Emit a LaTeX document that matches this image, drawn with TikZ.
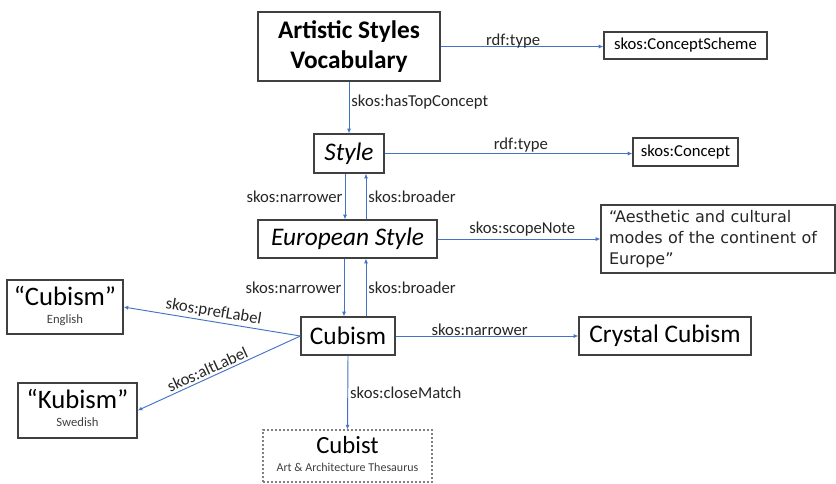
\documentclass[tikz,border=0pt]{standalone}
\usepackage{fontspec}
\setmainfont{Carlito}
\newfontfamily\notefont{DejaVu Sans}
\usetikzlibrary{arrows.meta,calc}
\definecolor{linec}{HTML}{4472C4}
\definecolor{boxc}{HTML}{404040}
\definecolor{lblc}{HTML}{262626}
\definecolor{subc}{HTML}{404040}
\begin{document}
\begin{tikzpicture}[x=0.75pt,y=-0.75pt,
  box/.style 2 args={draw=boxc, line width=0.9pt, minimum width=#1*0.75pt, minimum height=#2*0.75pt, inner sep=0pt, text=black, align=center},
  bigtext/.style={font=\fontsize{19}{23}\selectfont},
  lbl/.style={font=\fontsize{12.5}{14}\selectfont, text=lblc, inner sep=1.5pt},
  rel/.style={draw=linec, line width=0.7pt, -{Latex[length=3.5pt,width=3pt]}},
]
\useasboundingbox[fill=white] (0,0) rectangle (836,483);

% nodes
\node[box={182}{69}, font=\bfseries\fontsize{19}{23}\selectfont] (voc) at (349,46.5) {Artistic Styles\\Vocabulary};
\node[box={163}{27}, font=\fontsize{12.5}{14}\selectfont] (cs) at (685.5,45.5) {skos:ConceptScheme};
\node[box={70}{39}, font=\itshape\fontsize{19}{23}\selectfont] (style) at (349,153.5) {Style};
\node[box={105}{28}, font=\fontsize{12.5}{14}\selectfont] (concept) at (685.5,152) {skos:Concept};
\node[box={179}{38}, font=\itshape\fontsize{19}{23}\selectfont] (euro) at (347.5,239) {European Style};
\node[box={234}{68}, text width=163.5pt, align=left, text=lblc, font=\notefont\fontsize{12}{16}\selectfont] (note) at (718,239)
  {“Aesthetic and cultural\\modes of the continent of\\Europe”};
\node[box={94}{38}, bigtext] (cubism) at (348,336) {Cubism};
\node[box={172}{38}, bigtext] (crystal) at (665,336) {Crystal Cubism};
\node[box={116}{54}] (cuben) at (65,307)
  {\raisebox{-1pt}{\begin{tabular}{@{}c@{}}\fontsize{20}{20}\selectfont “Cubism”\\[1.5pt]\fontsize{9.5}{11}\selectfont\color{subc} English\end{tabular}}};
\node[box={119}{55}] (kub) at (77.5,410.5)
  {\raisebox{-1pt}{\begin{tabular}{@{}c@{}}\fontsize{20}{20}\selectfont “Kubism”\\[1.5pt]\fontsize{9.5}{11}\selectfont\color{subc} Swedish\end{tabular}}};
\node[box={169}{52}, draw=gray, line width=0.8pt, dash pattern=on 1.5pt off 1.5pt] (cubist) at (347.5,456)
  {\raisebox{-4pt}{\begin{tabular}{@{}c@{}}\fontsize{18.5}{18.5}\selectfont Cubist\\[1.5pt]\fontsize{9}{11}\selectfont\color{subc} Art \& Architecture Thesaurus\end{tabular}}};

% helper coordinates for parallel links
\coordinate (n1) at ($(style.south)+(-4,0)$);
\coordinate (b1) at ($(style.south)+(17,0)$);
\coordinate (n2) at ($(euro.south)+(-3.5,0)$);
\coordinate (b2) at ($(euro.south)+(18.5,0)$);

% connectors
\draw[rel] (voc.east) -- node[lbl, pos=0.445, yshift=4pt] {rdf:type} (voc.east -| cs.west);
\draw[rel] (voc.south) -- node[lbl, right, pos=0.4] {skos:hasTopConcept} (style.north);
\draw[rel] (style.east) -- node[lbl, pos=0.55, yshift=6pt] {rdf:type} (style.east -| concept.west);
\draw[rel] (n1) -- node[lbl, left, midway] {skos:narrower} (n1 |- euro.north);
\draw[rel] (b1 |- euro.north) -- node[lbl, right, midway] {skos:broader} (b1);
\draw[rel] (euro.east) -- node[lbl, pos=0.52, yshift=7.5pt] {skos:scopeNote} (euro.east -| note.west);
\draw[rel] (n2) -- node[lbl, left, midway] {skos:narrower} (n2 |- cubism.north);
\draw[rel] (b2 |- cubism.north) -- node[lbl, right, midway] {skos:broader} (b2);
\draw[rel] (cubism.east) -- node[lbl, pos=0.46, yshift=4.5pt] {skos:narrower} (crystal.west);
\draw[rel] (cubism.south) -- node[lbl, right, midway] {skos:closeMatch} (cubist.north);
\draw[rel] (cubism.west) -- node[lbl, sloped, above, midway] {skos:prefLabel} (cuben.east);
\draw[rel] (cubism.west) -- node[lbl, sloped, above, pos=0.55] {skos:altLabel} (kub.east);
\end{tikzpicture}
\end{document}
